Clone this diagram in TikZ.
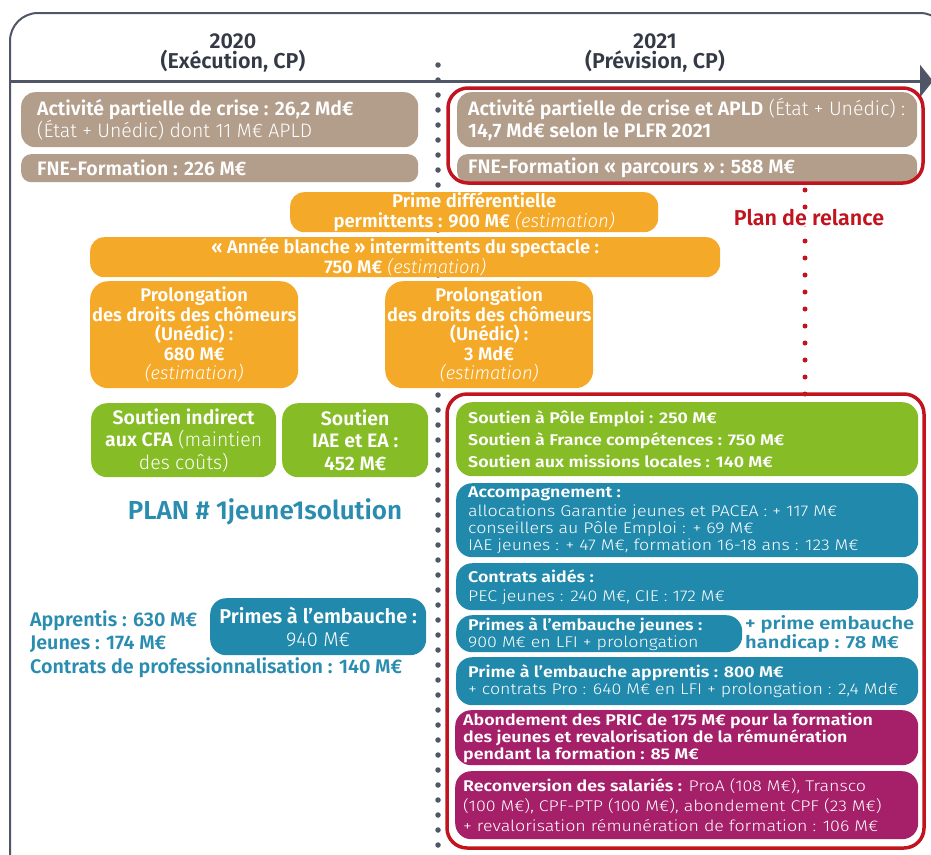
\documentclass[tikz,border=0pt]{standalone}
\usepackage{fontspec}
\setmainfont{Fira Sans Light}[BoldFont={Fira Sans SemiBold},ItalicFont={Fira Sans Light Italic}]
\newfontfamily\widef{Fira Sans Light}[FakeStretch=1.15,BoldFont={Fira Sans SemiBold}]
\usetikzlibrary{arrows.meta}
\definecolor{frame}{HTML}{4F5665}
\definecolor{brn}{HTML}{B39E8C}
\definecolor{orng}{HTML}{F5A929}
\definecolor{grn}{HTML}{86BC25}
\definecolor{teal}{HTML}{2189AB}
\definecolor{tealtxt}{HTML}{2A8DB0}
\definecolor{mag}{HTML}{A51F69}
\definecolor{rd}{HTML}{C1141E}
\definecolor{hdr}{HTML}{333A45}
\begin{document}
\begin{tikzpicture}[x=1pt,y=-1pt,
  bx/.style={draw=none,rounded corners=14,inner sep=0,anchor=north west},
  tl/.style={text=white,inner sep=0,align=left,anchor=west},
  tc/.style={text=white,inner sep=0,align=center,anchor=center},
  up/.style={font=\fontsize{19.5}{22}\selectfont},
  org/.style={font=\fontsize{18.3}{19.5}\selectfont},
  redbox/.style={draw=rd,line width=3.5,rounded corners=20},
]
\useasboundingbox (0,0) rectangle (931,854);
\clip (0,0) rectangle (931,854);
% frame
\draw[frame,line width=2,rounded corners=28] (10,13) rectangle (948,880);
% dotted separators
\coordinate (dtop) at (438,65);
\coordinate (dbot) at (438,860);
\draw[frame,line width=5.5,line cap=round,dash pattern=on 0pt off 15pt] (dtop) -- (dbot);
% timeline arrow
\coordinate (astart) at (10,81);
\coordinate (aend) at (933,81);
\draw[frame,line width=3,-{Triangle[length=13pt,width=32pt]}] (astart) -- (aend);
% headers
\node[text=hdr,font=\bfseries\fontsize{21.5}{20.5}\selectfont,align=center,inner sep=0] (h20) at (233,53) {2020\\(Exécution, CP)};
\node[text=hdr,font=\bfseries\fontsize{21.5}{20.5}\selectfont,align=center,inner sep=0] (h21) at (655,53) {2021\\(Prévision, CP)};

% brown boxes
\node[bx,fill=brn,minimum width=397,minimum height=55] (a1) at (21,92) {};
\node[tl,up] (a1t) at ([xshift=16]a1.west) {\textbf{Activité partielle de crise : 26,2 Md€}\\(État + Unédic) dont 11 M€ APLD};
\node[bx,fill=brn,minimum width=397,minimum height=28,rounded corners=10] (a2) at (21,154) {};
\node[tl,up] (a2t) at ([xshift=16]a2.west) {\textbf{FNE-Formation : 226 M€}};
\node[bx,fill=brn,minimum width=460,minimum height=55] (b1) at (457,92) {};
\node[tl,up] (b1t) at ([xshift=11]b1.west) {\textbf{Activité partielle de crise et APLD} (État + Unédic) :\\\textbf{14,7 Md€ selon le PLFR 2021}};
\node[bx,fill=brn,minimum width=460,minimum height=28,rounded corners=10] (b2) at (457,154) {};
\node[tl,up] (b2t) at ([xshift=11]b2.west) {\textbf{FNE-Formation « parcours » : 588 M€}};
\draw[redbox] (448,88) rectangle (923,183);

% plan de relance
\coordinate (rtop) at (805,190);
\coordinate (rbot) at (805,394);
\draw[rd,line width=5,line cap=round,dash pattern=on 0pt off 17pt] (rtop) -- (rbot);
\node[fill=white,text=rd,font=\bfseries\fontsize{21.5}{22}\selectfont,inner xsep=1,inner ysep=0] (pdr) at (809,218) {Plan de relance};

% orange boxes
\node[bx,fill=orng,minimum width=368,minimum height=40] (o1) at (290,192) {};
\node[tc,font=\fontsize{18.5}{20}\selectfont] (o1t) at (o1.center) {\textbf{Prime différentielle}\\\textbf{permittents : 900 M€} \textit{(estimation)}};
\node[bx,fill=orng,minimum width=630,minimum height=40] (o2) at (90,237) {};
\node[tc,org] (o2t) at (o2.center) {\textbf{« Année blanche » intermittents du spectacle :}\\\textbf{750 M€} \textit{(estimation)}};
\node[bx,fill=orng,minimum width=208,minimum height=107,rounded corners=18] (o3) at (90,281) {};
\node[tc,org] (o3t) at (o3.center) {\textbf{Prolongation}\\\textbf{des droits des chômeurs}\\\textbf{(Unédic) :}\\\textbf{680 M€}\\\textit{(estimation)}};
\node[bx,fill=orng,minimum width=208,minimum height=107,rounded corners=18] (o4) at (385,281) {};
\node[tc,org] (o4t) at (o4.center) {\textbf{Prolongation}\\\textbf{des droits des chômeurs}\\\textbf{(Unédic) :}\\\textbf{3 Md€}\\\textit{(estimation)}};

% green boxes left
\node[bx,fill=grn,minimum width=185,minimum height=74,rounded corners=16] (g1) at (91,403) {};
\node[tc,font=\fontsize{19.5}{22.5}\selectfont] (g1t) at (g1.center) {\textbf{Soutien indirect}\\\textbf{aux CFA} (maintien\\des coûts)};
\node[bx,fill=grn,minimum width=146,minimum height=74,rounded corners=16] (g2) at (282,403) {};
\node[tc,font=\fontsize{19.5}{22.5}\selectfont] (g2t) at (g2.center) {\textbf{Soutien}\\\textbf{IAE et EA :}\\\textbf{452 M€}};

% plan 1jeune1solution
\node[text=tealtxt,font=\bfseries\fontsize{26}{28}\selectfont,inner sep=0] (plan) at (265,512) {PLAN \# 1jeune1solution};
\node[bx,fill=teal,minimum width=216,minimum height=57,rounded corners=16] (pe) at (210,598) {};
\node[tc,font=\fontsize{20}{23}\selectfont] (pet) at (pe.center) {\textbf{Primes à l’embauche :}\\940 M€};
\node[text=tealtxt,font=\fontsize{19.7}{23.5}\selectfont,align=left,anchor=west,inner sep=0] (left) at (30,644) {\textbf{Apprentis : 630 M€}\\\textbf{Jeunes : 174 M€}\\\textbf{Contrats de professionnalisation : 140 M€}};

% right lower boxes
\node[bx,fill=grn,minimum width=462,minimum height=74,rounded corners=16] (r1) at (456,402) {};
\node[tl,font=\widef\bfseries\fontsize{15.5}{22}\selectfont] (r1t) at ([xshift=12]r1.west) {Soutien à Pôle Emploi : 250 M€\\Soutien à France compétences : 750 M€\\Soutien aux missions locales : 140 M€};
\node[bx,fill=teal,minimum width=462,minimum height=74,rounded corners=16] (r2) at (456,483) {};
\node[tl,font=\widef\fontsize{15.5}{17}\selectfont] (r2t) at ([xshift=12,yshift=0]r2.west) {\textbf{Accompagnement :}\\[2pt]allocations Garantie jeunes et PACEA : + 117 M€\\conseillers au Pôle Emploi : + 69 M€\\IAE jeunes : + 47 M€, formation 16-18 ans : 123 M€};
\node[bx,fill=teal,minimum width=462,minimum height=47,rounded corners=16] (r3) at (456,563) {};
\node[tl,font=\widef\fontsize{15.5}{19}\selectfont] (r3t) at ([xshift=12]r3.west) {\textbf{Contrats aidés :}\\PEC jeunes : 240 M€, CIE : 172 M€};
\node[bx,fill=teal,minimum width=286,minimum height=37,rounded corners=16] (r4) at (456,615) {};
\node[tl,font=\widef\fontsize{15.5}{17}\selectfont] (r4t) at ([xshift=12]r4.west) {\textbf{Primes à l’embauche jeunes :}\\900 M€ en LFI + prolongation};
\node[text=tealtxt,font=\widef\bfseries\fontsize{17.5}{18.5}\selectfont,align=left,anchor=west,inner sep=0] (hand) at (745,634) {+ prime embauche\\handicap : 78 M€};
\node[bx,fill=teal,minimum width=462,minimum height=48,rounded corners=16] (r5) at (456,657) {};
\node[tl,font=\widef\fontsize{15.5}{17}\selectfont] (r5t) at ([xshift=12]r5.west) {\textbf{Prime à l’embauche apprentis : 800 M€}\\+ contrats Pro : 640 M€ en LFI + prolongation : 2,4 Md€};
\node[bx,fill=mag,minimum width=463,minimum height=55,rounded corners=16] (r6) at (455,710) {};
\node[tl,font=\widef\bfseries\fontsize{15.5}{17}\selectfont] (r6t) at ([xshift=8]r6.west) {Abondement des PRIC de 175 M€ pour la formation\\des jeunes et revalorisation de la rémunération\\pendant la formation : 85 M€};
\node[bx,fill=mag,minimum width=463,minimum height=68,rounded corners=16] (r7) at (455,771) {};
\node[tl,font=\widef\fontsize{15.5}{20}\selectfont] (r7t) at ([xshift=8]r7.west) {\textbf{Reconversion des salariés :} ProA (108 M€), Transco\\(100 M€), CPF-PTP (100 M€), abondement CPF (23 M€)\\+ revalorisation rémunération de formation : 106 M€};
\draw[redbox] (447,394) rectangle (924,848);
\end{tikzpicture}
\end{document}
